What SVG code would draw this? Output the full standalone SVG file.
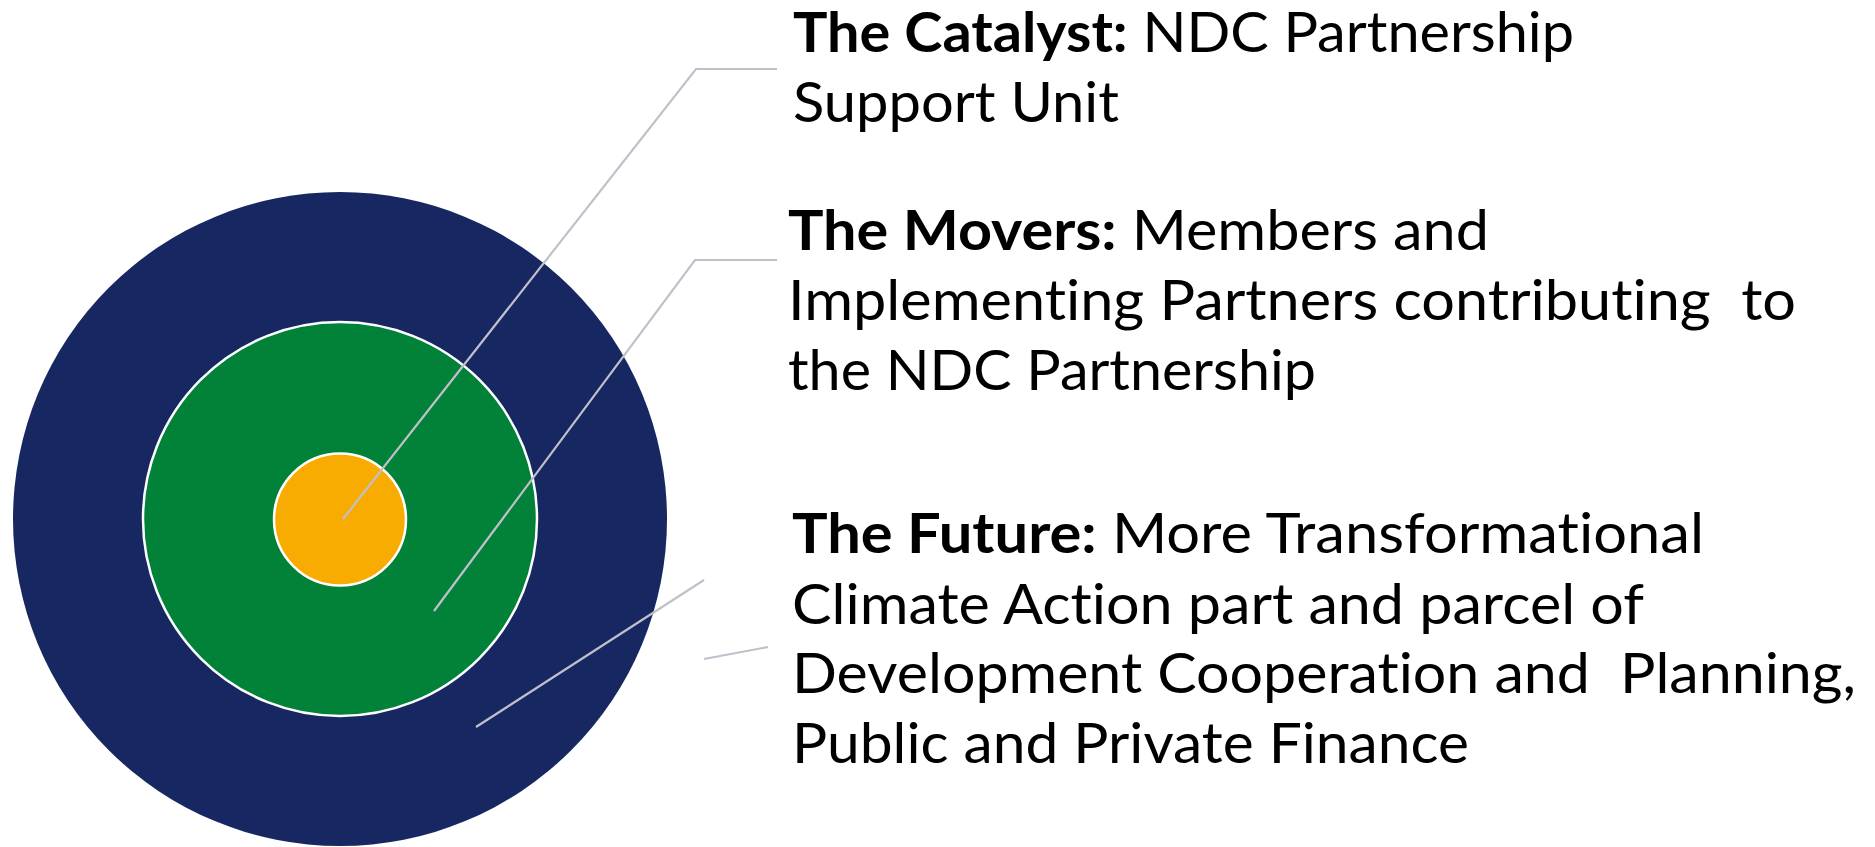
<svg xmlns="http://www.w3.org/2000/svg" width="1875" height="847" viewBox="0 0 1875 847">
<style>
.t{font-family:Lato,"Liberation Sans",sans-serif;font-size:56px;fill:#000;white-space:pre;font-variant-ligatures:none;font-feature-settings:"liga" 0,"dlig" 0}
.b{font-weight:bold}
.c{fill:none;stroke:#C0C0CA;stroke-width:2.2}
</style>
<rect width="1875" height="847" fill="#fff"/>
<g id="future-ring"><circle cx="340" cy="519" r="327" fill="#172762"/></g>
<g id="movers-ring"><circle cx="340" cy="519" r="197" fill="#028238" stroke="#fff" stroke-width="2.5"/></g>
<g id="catalyst-core"><circle cx="340" cy="519.5" r="66" fill="#F8AB00" stroke="#fff" stroke-width="2.5"/></g>
<g id="connectors">
<polyline class="c" points="343,519 696,69 777,69"/>
<polyline class="c" points="434,611 695,260 777,260"/>
<line class="c" x1="476" y1="727" x2="704" y2="580"/>
<line class="c" x1="704" y1="659" x2="768" y2="647"/>
</g>
<g id="catalyst-label">
<text class="t" x="793" y="52" textLength="781" lengthAdjust="spacingAndGlyphs"><tspan class="b">The Catalyst:</tspan> NDC Partnership</text>
<text class="t" x="793" y="122" textLength="326" lengthAdjust="spacingAndGlyphs">Support Unit</text>
</g>
<g id="movers-label">
<text class="t" x="788" y="250" textLength="701" lengthAdjust="spacingAndGlyphs"><tspan class="b">The Movers:</tspan> Members and</text>
<text class="t" x="788" y="320" textLength="1008" lengthAdjust="spacingAndGlyphs">Implementing Partners contributing  to</text>
<text class="t" x="788" y="390" textLength="528" lengthAdjust="spacingAndGlyphs">the NDC Partnership</text>
</g>
<g id="future-label">
<text class="t" x="792" y="553" textLength="912" lengthAdjust="spacingAndGlyphs"><tspan class="b">The Future:</tspan> More Transformational</text>
<text class="t" x="792" y="624" textLength="852" lengthAdjust="spacingAndGlyphs">Climate Action part and parcel of</text>
<text class="t" x="792" y="693" textLength="1064" lengthAdjust="spacingAndGlyphs">Development Cooperation and  Planning,</text>
<text class="t" x="792" y="763" textLength="677" lengthAdjust="spacingAndGlyphs">Public and Private Finance</text>
</g>
</svg>
